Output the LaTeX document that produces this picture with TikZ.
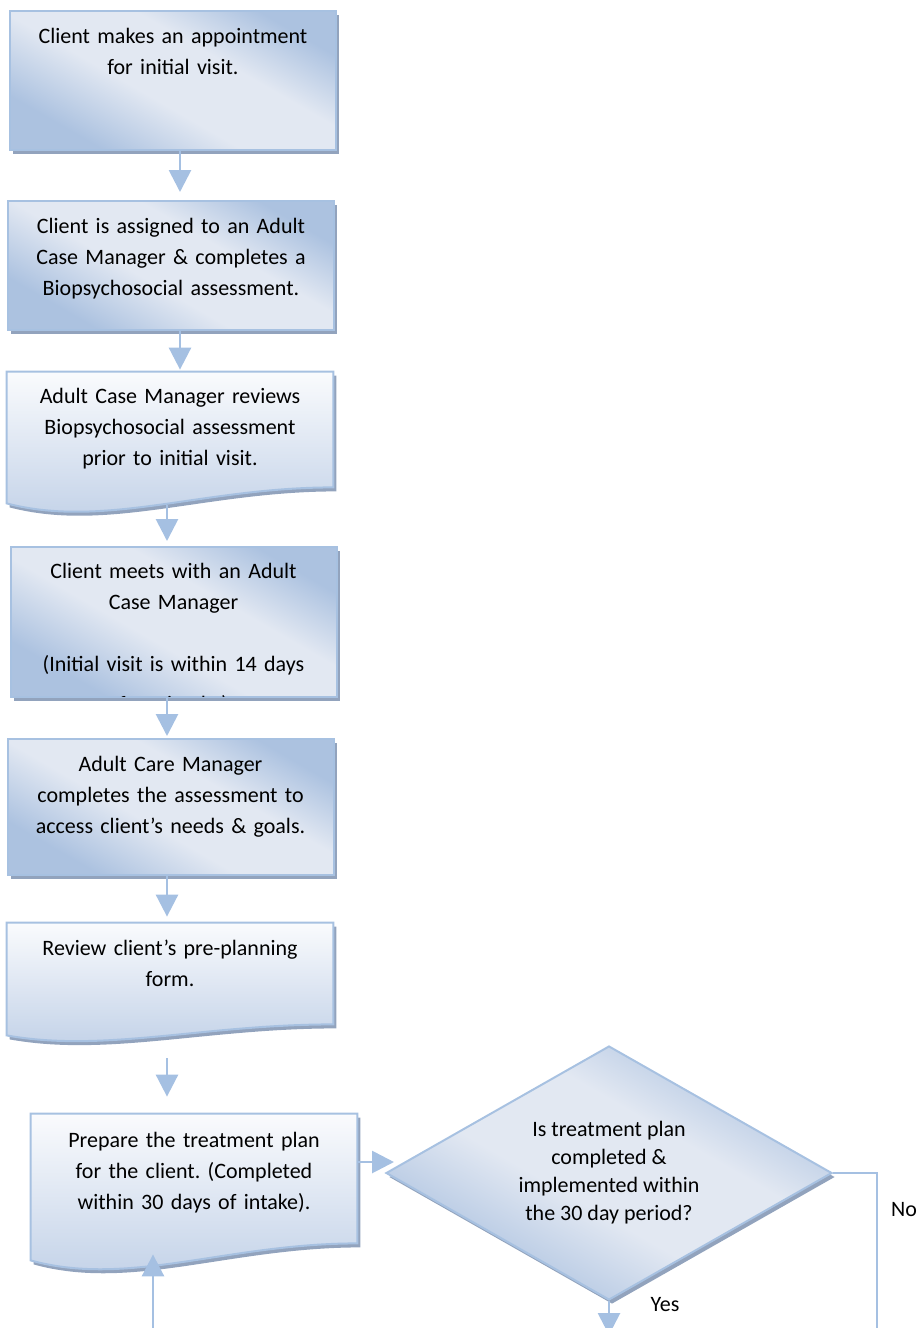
\documentclass[tikz,border=0pt]{standalone}
\usepackage{fontspec}
\setmainfont{Carlito}
\usepackage{tikz}
\usetikzlibrary{shapes.geometric,shadows,calc,backgrounds,arrows.meta}
\frenchspacing

\definecolor{glosslight}{RGB}{226,232,242}
\definecolor{glossdark}{RGB}{172,194,224}
\definecolor{doctop}{RGB}{250,251,253}
\definecolor{docbot}{RGB}{192,208,231}
\definecolor{edgeblue}{RGB}{167,193,225}
\definecolor{shadowblue}{RGB}{146,163,189}
\definecolor{flowblue}{RGB}{165,192,226}

\pgfdeclarehorizontalshading{gloss}{100bp}{color(0bp)=(glossdark); color(27bp)=(glossdark); color(44bp)=(glosslight); color(60bp)=(glosslight); color(75bp)=(glossdark); color(100bp)=(glossdark)}

\tikzstyle{boxshadow} = [drop shadow={shadow xshift=1.5pt, shadow yshift=-2pt, fill=shadowblue, opacity=1}]
\tikzstyle{boxtext} = [text width=153pt, align=center, inner xsep=5pt, inner ysep=0pt, text height=16pt, font=\fontsize{11}{15.5}\selectfont]
\tikzstyle{procbox} = [boxtext, draw=edgeblue, line width=1pt, shading=gloss, shading angle=60, boxshadow]
\tikzstyle{docfill} = [draw=edgeblue, line width=1pt, top color=doctop, bottom color=docbot, boxshadow]
\tikzstyle{decision} = [diamond, aspect=1.75, minimum width=223pt, minimum height=127pt, inner sep=0pt, draw=edgeblue, line width=1pt, shading=gloss, shading angle=60, boxshadow, align=center, font=\fontsize{11}{14}\selectfont]
\tikzstyle{flow} = [draw=flowblue, line width=1.4pt, shorten >=1pt, -{Triangle[width=11pt,length=11pt]}]
\tikzstyle{flowline} = [draw=flowblue, line width=1.4pt]
\tikzstyle{lbl} = [font=\fontsize{11}{13}\selectfont]

\newcommand{\docshape}[2]{%
  \begin{scope}[on background layer]
    \path[docfill] (#1.north west) -- (#1.north east) -- (#1.south east)
      .. controls ($(#1.south east)!0.4!(#1.south west)$) and ($(#1.south east)!0.7!(#1.south west)+(0,{2.6*#2})$) .. ($(#1.south west)+(0,#2)$) -- cycle;
  \end{scope}}

\begin{document}
\begin{tikzpicture}[x=0.5pt, y=-0.5pt]
        \useasboundingbox (0,0) rectangle (918,1328);

        \node[procbox, text depth=53.5pt] at (173,80.5) (b1) {Client makes an appointment\\for initial visit.};
        \node[procbox, text depth=48.5pt] at (171,265.5) (b2) {Client is assigned to an Adult\\Case Manager \& completes a\\Biopsychosocial assessment.};
        \node[boxtext, text height=15.5pt, text depth=42pt] at (170,429.5) (b3) {Adult Case Manager reviews\\Biopsychosocial assessment\\prior to initial visit.};
        \docshape{b3}{16}
        \node[procbox, text height=15.5pt, text depth=59.5pt] at (173.5,622) (b4) {Client meets with an Adult\\Case Manager\\[15.5pt](Initial visit is within 14 days};
        \begin{scope}
            \clip (b4.north west) rectangle ($(b4.south east)+(0,-2)$);
            \node[anchor=base, font=\fontsize{11}{15.5}\selectfont] at ($(b4.south)+(0,13)$) (b4tail) {from intake)};
        \end{scope}
        \node[procbox, text depth=52pt] at (170.5,807) (b5) {Adult Care Manager\\completes the assessment to\\access client’s needs \& goals.};
        \node[boxtext, text depth=34.5pt] at (170,973.5) (b6) {Review client’s pre-planning\\form.};
        \docshape{b6}{11}
        \node[boxtext, text height=16.5pt, text depth=48pt] at (194,1178.5) (b7) {Prepare the treatment plan\\for the client. (Completed\\within 30 days of intake).};
        \docshape{b7}{17}
        \node[decision] at (609,1173) (dia) {Is treatment plan\\completed \&\\implemented within\\the 30 day period?};
        \node[lbl] at (665,1305) (yeslbl) {Yes};
        \node[lbl] at (904,1210) (nolbl) {No};

        \coordinate (upper) at (180,0);
        \coordinate (lower) at (167,0);
        \coordinate (feed) at ($(b7.east)+(0,-16.5)$);
        \coordinate (yesout) at ($(dia.south)+(0,36)$);
        \coordinate (noout) at (877,1340);
        \coordinate (backin) at (153,1340);

        \draw[flow, shorten >=4pt] (b1.south -| upper) -- (b2.north -| upper);
        \draw[flow] (b2.south -| upper) -- (b3.north -| upper);
        \draw[flow, shorten >=2.5pt] ($(b3.south -| lower)+(0,18)$) -- (b4.north -| lower);
        \draw[flow] (b4.south -| lower) -- (b5.north -| lower);
        \draw[flow, shorten >=3pt] (b5.south -| lower) -- (b6.north -| lower);
        \draw[flow] ($(b6.south -| lower)+(0,34)$) -- ($(b7.north -| lower)+(0,-15)$);
        \draw[flow, shorten >=-4.5pt] (feed) -- (feed -| dia.west);
        \draw[flow] (dia.south) -- (yesout);
        \draw[flowline] (dia.east) -| (noout);
        \draw[flow] (backin) -- ($(b7.south -| backin)+(0,9)$);
    \end{tikzpicture}
\end{document}
